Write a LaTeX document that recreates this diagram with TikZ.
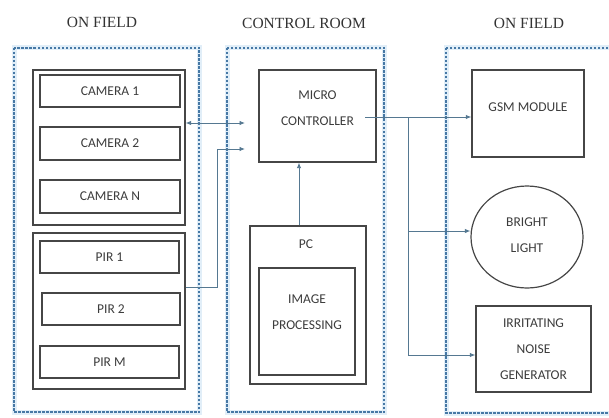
\documentclass[tikz,border=0pt]{standalone}
\usepackage{fontspec}
\setmainfont{Carlito}
\newfontfamily\titlefont{Liberation Serif}
\usetikzlibrary{arrows.meta,shapes.geometric}
\definecolor{dashblue}{RGB}{70,120,165}
\definecolor{halo}{RGB}{225,238,248}
\definecolor{conncol}{RGB}{85,120,145}
\definecolor{boxcol}{RGB}{70,70,70}
\definecolor{txtcol}{RGB}{60,60,60}
\tikzset{
  zone/.style={draw=dashblue, line width=1.4pt, dash pattern=on 2.5pt off 1.5pt},
  zonehalo/.style={draw=halo, line width=5pt},
  group/.style={draw=boxcol, line width=1.2pt},
  unit/.style={draw=boxcol, line width=1.3pt},
  lbl/.style={text=txtcol, font=\fontsize{13.5}{26}\selectfont, align=center, inner sep=0pt},
  title/.style={text=black!80, font=\titlefont\fontsize{15.5}{18}\selectfont, inner sep=0pt},
  conn/.style={draw=conncol, line width=0.9pt},
  tip/.style={-{Latex[length=5.5pt,width=4.5pt]}},
}
\begin{document}
\begin{tikzpicture}[x=1pt,y=-1pt]
\useasboundingbox (0,0) rectangle (609,417);
\begin{scope}
\clip (0,0) rectangle (609,417);
% zones
\draw[zonehalo] (14,48) rectangle (199,412);
\draw[zonehalo] (227,48) rectangle (384,412);
\draw[zonehalo] (446,48) rectangle (620,413);
\draw[zone] (14,48) rectangle (199,412);
\draw[zone] (227,48) rectangle (384,412);
\draw[zone] (446,48) rectangle (620,413);
\end{scope}
% titles
\node[title] (t1) at (102,22) {ON FIELD};
\node[title] (t2) at (304,23) {CONTROL ROOM};
\node[title] (t3) at (529,23) {ON FIELD};
% camera group
\node[group, minimum width=152pt, minimum height=155pt] (camg) at (109,147.5) {};
\node[unit, minimum width=140pt, minimum height=32pt, lbl] (cam1) at (110,91) {CAMERA 1};
\node[unit, minimum width=140pt, minimum height=33pt, lbl] (cam2) at (110,143.5) {CAMERA 2};
\node[unit, minimum width=140pt, minimum height=33pt, lbl] (camN) at (110,196.5) {CAMERA N};
% pir group
\node[group, minimum width=152pt, minimum height=156pt] (pirg) at (109,311) {};
\node[unit, minimum width=139pt, minimum height=32pt, lbl] (pir1) at (109.5,257) {PIR 1};
\node[unit, minimum width=138pt, minimum height=32pt, lbl] (pir2) at (111,309) {PIR 2};
\node[unit, minimum width=139pt, minimum height=32pt, lbl] (pirM) at (109.5,362) {PIR M};
% control room
\node[unit, minimum width=117pt, minimum height=92pt] (micro) at (317.5,116) {};
\node[lbl] (microtxt) at (317.5,108) {MICRO\\CONTROLLER};
\node[group, minimum width=116pt, minimum height=158pt] (pc) at (308,305) {};
\node[lbl] (pctxt) at (306,244) {PC};
\node[unit, minimum width=96pt, minimum height=107pt] (ip) at (307,321.5) {};
\node[lbl] (iptxt) at (307,312) {IMAGE\\PROCESSING};
% right field
\node[unit, minimum width=112pt, minimum height=87pt] (gsm) at (528,113.5) {};
\node[lbl] (gsmtxt) at (528,107) {GSM MODULE};
\node[draw=boxcol, line width=1.2pt, ellipse, minimum width=112pt, minimum height=102pt] (light) at (527,237) {};
\node[lbl] (lighttxt) at (527,235.5) {BRIGHT\\LIGHT};
\node[unit, minimum width=115pt, minimum height=86pt, lbl] (noise) at (533.5,349) {IRRITATING\\NOISE\\GENERATOR};
% connectors
\coordinate (c1) at (245,123);
\draw[conn, {Latex[length=5.5pt,width=4.5pt]}-{Latex[length=5.5pt,width=4.5pt]}] (c1 -| camg.east) -- (c1);
\coordinate (c2) at (245,149);
\coordinate (p0) at (185,287);
\coordinate (bend) at (217,287);
\draw[conn, tip] (p0 -| pirg.east) -- (bend) |- (c2);
\coordinate (pcx) at (299,0);
\draw[conn, tip] (pcx |- pc.north) -- (pcx |- micro.south);
\coordinate (mo) at (365,117);
\coordinate (split) at (408,117);
\coordinate (b1) at (408,231);
\coordinate (b2) at (408,355);
\draw[conn, tip] (mo) -- (mo -| gsm.west);
\draw[conn] (split) -- (b2);
\draw[conn, tip] (b1) -- (b1 -| light.west);
\draw[conn, tip] (b2) -- (b2 -| noise.west);
\end{tikzpicture}
\end{document}
